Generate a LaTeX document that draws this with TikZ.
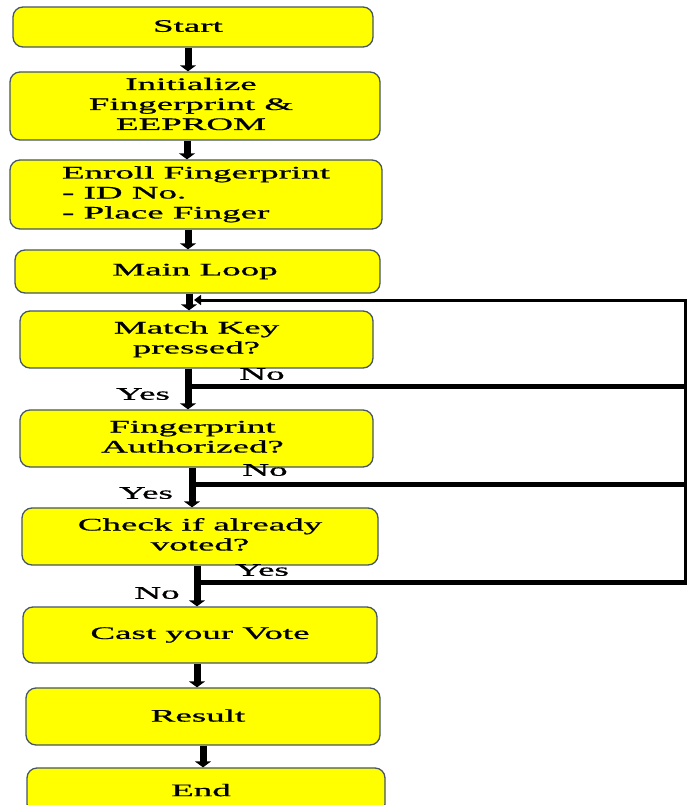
\documentclass[tikz,border=0pt]{standalone}
\usepackage{fontspec}
\setmainfont{Liberation Serif}
\newfontfamily\heavy{Liberation Serif}[FakeBold=0.6]
\usetikzlibrary{arrows.meta}
\definecolor{boxfill}{RGB}{255,255,0}
\definecolor{boxline}{RGB}{70,85,105}
\newcommand\sxone[1]{\raisebox{2pt}{\scalebox{2.1}[1]{#1}}}
\newcommand\sxc[1]{\raisebox{2pt}{\scalebox{2.1}[1]{\begin{tabular}{@{}c@{}}#1\end{tabular}}}}
\newcommand\sxl[1]{\raisebox{2pt}{\scalebox{2.1}[1]{\begin{tabular}{@{}l@{}}#1\end{tabular}}}}
\begin{document}
\begin{tikzpicture}[x=1pt,y=-1pt,
  box/.style={draw=boxline, line width=1.3pt, fill=boxfill, rounded corners=10pt,
    inner sep=0pt, font=\heavy\fontsize{17.6}{20}\selectfont},
  flow/.style={line width=7pt, -{Triangle[width=16pt,length=6pt]}},
  branch/.style={line width=5pt},
  loopline/.style={line width=3pt, line join=miter, -{Triangle[width=10pt,length=7pt]}},
  lbl/.style={inner sep=0pt, font=\heavy\fontsize{17.6}{20}\selectfont}]
\useasboundingbox (0,0) rectangle (687,805);
\clip (0,0) rectangle (687,805);
\fill[white] (0,0) rectangle (687,805);

% boxes
\node[box, minimum width=360pt, minimum height=40pt] (start) at (193,27) {\sxone{Start}\hspace*{10pt}};
\node[box, minimum width=370pt, minimum height=68pt] (init) at (195,106) {\sxc{Initialize\\Fingerprint \&\\EEPROM}\hspace*{8pt}};
\node[box, minimum width=372pt, minimum height=69pt] (enroll) at (196,194.5) {\sxl{Enroll Fingerprint\\- ID No.\\- Place Finger}};
\node[box, minimum width=365pt, minimum height=43pt] (main) at (197.5,271.5) {\sxone{Main Loop}\hspace*{5pt}};
\node[box, minimum width=353pt, minimum height=57pt] (match) at (196.5,339.5) {\sxc{Match Key\\pressed?}};
\node[box, minimum width=353pt, minimum height=57pt] (auth) at (196.5,438.5) {\sxc{Fingerprint\\Authorized?}\hspace*{8pt}};
\node[box, minimum width=356pt, minimum height=57pt] (check) at (200,536.5) {\sxc{Check if already\\voted?}};
\node[box, minimum width=354pt, minimum height=56pt] (cast) at (200,635) {\sxone{Cast your Vote}};
\node[box, minimum width=354pt, minimum height=57pt] (result) at (203,716.5) {\sxone{Result}\hspace*{10pt}};
\node[box, minimum width=358pt, minimum height=46pt] (end) at (206,791) {\sxone{End}\hspace*{10pt}};

% arrow x positions
\coordinate (x1) at (188,0);
\coordinate (x2) at (187,0);
\coordinate (x3) at (188,0);
\coordinate (x4) at (189,0);
\coordinate (x5) at (188,0);
\coordinate (x6) at (192,0);
\coordinate (x7) at (197,0);
\coordinate (x8) at (197,0);
\coordinate (x9) at (203,0);

\draw[flow] (start.south -| x1) -- (init.north -| x1);
\draw[flow] (init.south -| x2) -- (enroll.north -| x2);
\draw[flow] (enroll.south -| x3) -- (main.north -| x3);
\draw[flow] (main.south -| x4) -- (match.north -| x4);
\draw[flow] (match.south -| x5) -- (auth.north -| x5);
\draw[flow] (auth.south -| x6) -- (check.north -| x6);
\draw[flow] (check.south -| x7) -- (cast.north -| x7);
\draw[flow] (cast.south -| x8) -- (result.north -| x8);
\draw[flow] (result.south -| x9) -- (end.north -| x9);

% loop back
\coordinate (j1) at (188,386);
\coordinate (j2) at (192,484);
\coordinate (j3) at (197,582);
\coordinate (r1) at (686.5,386);
\coordinate (r2) at (686.5,484);
\coordinate (r3) at (686.5,582);
\coordinate (rb) at (685,584.5);
\coordinate (r0) at (685,300);
\coordinate (tip) at (194,300);
\draw[branch] (j1) -- (r1);
\draw[branch] (j2) -- (r2);
\draw[branch] (j3) -- (r3);
\draw[loopline] (rb) -- (r0) -- (tip);

% labels
\node[lbl] (no1) at (262,375) {\sxone{No}};
\node[lbl] (yes1) at (143,395) {\sxone{Yes}};
\node[lbl] (no2) at (265,471) {\sxone{No}};
\node[lbl] (yes2) at (146,494) {\sxone{Yes}};
\node[lbl] (yes3) at (262,571) {\sxone{Yes}};
\node[lbl] (no3) at (157,594) {\sxone{No}};
\end{tikzpicture}
\end{document}
